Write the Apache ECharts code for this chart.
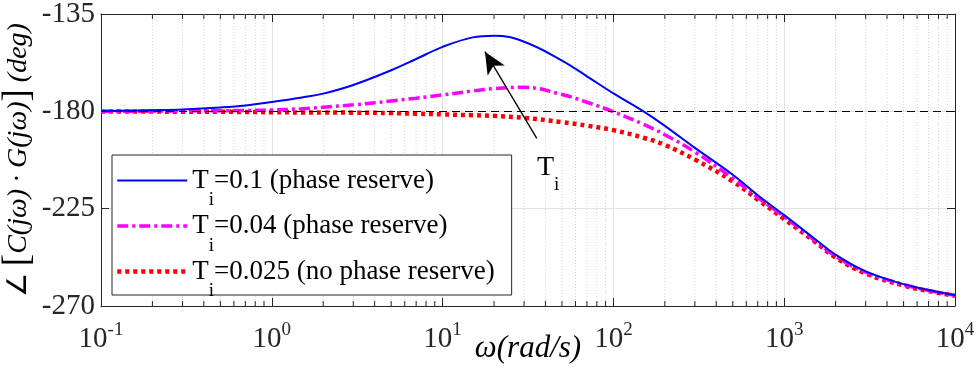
<!DOCTYPE html>
<html>
<head>
<meta charset="utf-8">
<script src="https://cdn.jsdelivr.net/npm/echarts@6/dist/echarts.min.js"></script>
<style>
  html, body { margin: 0; padding: 0; background: #fff; }
  #phaseChart { width: 977px; height: 371px; }
</style>
</head>
<body>
<div id="phaseChart"></div>
<script>
// frequency axis (rad/s) and phase of C(jw)G(jw) in degrees
let freq = [0.1, 0.15, 0.2, 0.3, 0.5, 0.7, 1, 1.5, 2, 3, 5, 7, 10, 15, 20, 30, 50, 70, 100, 150, 200, 300, 500, 700, 1000, 1500, 2000, 3000, 5000, 7000, 10000]
let phaseT01 = [-179.8, -179.7, -179.5, -179.1, -178.2, -177.3, -175.7, -173.6, -171.8, -167.8, -161, -155.8, -150.2, -145.8, -145, -147.8, -156.5, -163.8, -171.7, -180, -186.7, -196.9, -209.3, -218.8, -228, -238.8, -246.3, -254, -259.9, -262.6, -265]
let phaseT004 = [-180, -180, -179.9, -179.8, -179.7, -179.6, -179.4, -178.8, -178.1, -177, -175.2, -173.9, -172.4, -170.6, -169.5, -168.9, -172.2, -175.8, -180.2, -186, -190.8, -198.8, -211, -219.8, -228.7, -239.5, -247, -254.4, -260.1, -262.8, -265.1]
let phaseT0025 = [-180.1, -180.1, -180.1, -180.2, -180.2, -180.3, -180.4, -180.5, -180.5, -180.6, -180.8, -181.1, -181.4, -181.8, -182.1, -183, -185, -186.6, -188.7, -192.2, -195.5, -202.3, -212.4, -220.8, -229.8, -240, -247.6, -255, -260.5, -263.1, -265.3]

let seriesNames = ['Ti=0.1', 'Ti=0.04', 'Ti=0.025']
let legendTail = ['=0.1 (phase reserve)', '=0.04 (phase reserve)', '=0.025 (no phase reserve)']

let yTicks = [-270, -225, -180, -135]
let minorTicks = []
;[0.1, 1, 10, 100, 1000].forEach(d => {
  for (let k = 2; k <= 9; k++) minorTicks.push(+(d * k).toPrecision(3))
})

let refPhase = -180
let arrowTail = [35.6, -192.5]
let arrowTip = [17.7, -152.4]
let arrowLabel = [41.5, -206]

let fontSerif = 'Liberation Serif'
let axisColor = '#262626'

function toPairs(ys) {
  return freq.map((f, i) => [f, ys[i]])
}

function drawMinor(params, api) {
  let x = api.value(0)
  let top = api.coord([x, yTicks[yTicks.length - 1]])
  let bot = api.coord([x, yTicks[0]])
  return {
    type: 'group',
    children: [
      {type: 'line', shape: {x1: top[0], y1: top[1], x2: bot[0], y2: bot[1]},
        style: {stroke: '#d4d4d4', lineWidth: 1, lineDash: [1, 2]}},
      {type: 'line', shape: {x1: bot[0], y1: bot[1], x2: bot[0], y2: bot[1] - 5},
        style: {stroke: axisColor, lineWidth: 1}},
      {type: 'line', shape: {x1: top[0], y1: top[1], x2: top[0], y2: top[1] + 5},
        style: {stroke: axisColor, lineWidth: 1}}
    ]
  }
}

let chart = echarts.init(document.getElementById('phaseChart'))

let logAxisBase = {
  type: 'log',
  logBase: 10,
  min: 0.1,
  max: 10000,
  axisLine: {show: true, onZero: false, lineStyle: {color: axisColor, width: 1}},
  axisTick: {show: true, inside: true, length: 8, lineStyle: {color: axisColor}},
}
let valAxisBase = {
  type: 'value',
  min: -270,
  max: -135,
  interval: 45,
  axisLine: {show: true, onZero: false, lineStyle: {color: axisColor, width: 1}},
  axisTick: {show: true, inside: true, length: 8, lineStyle: {color: axisColor}},
}

let option = {
  animation: false,
  backgroundColor: '#fff',
  grid: {left: 101, right: 22, top: 14, bottom: 65, outerBoundsMode: 'none', containLabel: false},
  legend: {
    data: seriesNames,
    orient: 'vertical',
    left: 112,
    top: 155,
    backgroundColor: '#fff',
    borderColor: axisColor,
    borderWidth: 1,
    borderRadius: 0,
    padding: [12, 17, -6, 3],
    itemWidth: 70,
    itemHeight: 20,
    itemGap: 2.5,
    selectedMode: false,
    itemStyle: {opacity: 0},
    lineStyle: {width: 'inherit'},
    formatter: name => '{t|T}{i|i}{t|' + legendTail[seriesNames.indexOf(name)] + '}',
    textStyle: {
      color: '#000',
      fontFamily: fontSerif,
      fontSize: 27,
      rich: {
        t: {fontFamily: fontSerif, fontSize: 27, color: '#000'},
        i: {fontFamily: fontSerif, fontSize: 19, color: '#000', padding: [40, 0, 0, 0]}
      }
    }
  },
  xAxis: [
    Object.assign({}, logAxisBase, {
      position: 'bottom',
      name: 'ω(rad/s)',
      nameLocation: 'middle',
      nameGap: 27,
      nameMoveOverlap: false,
      nameTextStyle: {fontFamily: fontSerif, fontStyle: 'italic', fontSize: 31, color: '#000'},
      axisLabel: {
        margin: 15,
        formatter: v => '{b|10}{s|' + Math.round(Math.log10(v)) + '}',
        rich: {
          b: {fontFamily: fontSerif, fontSize: 29, color: '#262626'},
          s: {fontFamily: fontSerif, fontSize: 19, color: '#262626', padding: [0, 0, 17, 0]}
        }
      },
      splitLine: {show: true, lineStyle: {color: '#e3e3e3', width: 1}}
    }),
    Object.assign({}, logAxisBase, {
      position: 'top',
      axisLabel: {show: false},
      splitLine: {show: false}
    })
  ],
  yAxis: [
    Object.assign({}, valAxisBase, {
      position: 'left',
      name: '{a|∠ }{br|[}{m|C(jω) · G(jω)}{br|]}{m| (deg)}',
      nameLocation: 'middle',
      nameRotate: 90,
      nameGap: 64,
      nameMoveOverlap: false,
      nameTextStyle: {
        rich: {
          a: {fontFamily: fontSerif, fontSize: 27, color: '#000'},
          br: {fontFamily: fontSerif, fontSize: 37, color: '#000'},
          m: {fontFamily: fontSerif, fontStyle: 'italic', fontSize: 28, color: '#000'}
        }
      },
      axisLabel: {margin: 6, fontFamily: fontSerif, fontSize: 29, color: '#262626'},
      splitLine: {show: true, lineStyle: {color: '#e3e3e3', width: 1}}
    }),
    Object.assign({}, valAxisBase, {
      position: 'right',
      axisLabel: {show: false},
      splitLine: {show: false}
    })
  ],
  series: [
    {
      name: 'minor',
      type: 'custom',
      xAxisIndex: 0,
      yAxisIndex: 0,
      silent: true,
      z: 1,
      renderItem: drawMinor,
      data: minorTicks.map(v => [v])
    },
    {
      name: seriesNames[2],
      type: 'line',
      smooth: 0.4,
      symbol: 'none',
      z: 3,
      lineStyle: {color: '#ff0000', width: 4.5, type: [4, 4], cap: 'butt'},
      itemStyle: {color: '#ff0000'},
      data: toPairs(phaseT0025)
    },
    {
      name: seriesNames[1],
      type: 'line',
      smooth: 0.4,
      symbol: 'none',
      z: 4,
      lineStyle: {color: '#ff00ff', width: 3.5, type: [11, 4, 3, 4], cap: 'butt'},
      itemStyle: {color: '#ff00ff'},
      data: toPairs(phaseT004)
    },
    {
      name: seriesNames[0],
      type: 'line',
      smooth: 0.4,
      symbol: 'none',
      z: 5,
      lineStyle: {color: '#0000ff', width: 2},
      itemStyle: {color: '#0000ff'},
      data: toPairs(phaseT01),
      markLine: {
        silent: true,
        symbol: 'none',
        label: {show: false},
        data: [
          {yAxis: refPhase, lineStyle: {color: '#000', width: 1, type: [8, 5]}},
          [
            {coord: arrowTail, symbol: 'none', lineStyle: {color: '#000', width: 1.3, type: 'solid'}},
            {coord: arrowTip, symbol: 'arrow', symbolSize: [15, 22]}
          ]
        ]
      },
      markPoint: {
        silent: true,
        symbol: 'circle',
        symbolSize: 1,
        itemStyle: {color: 'rgba(0,0,0,0)'},
        data: [{
          coord: arrowLabel,
          label: {
            show: true,
            position: 'inside',
            formatter: '{t|T}{i|i}',
            rich: {
              t: {fontFamily: fontSerif, fontSize: 28, color: '#000'},
              i: {fontFamily: fontSerif, fontSize: 19, color: '#000', padding: [35, 0, 0, 0]}
            }
          }
        }]
      }
    }
  ]
}

chart.setOption(option)
</script>
</body>
</html>
